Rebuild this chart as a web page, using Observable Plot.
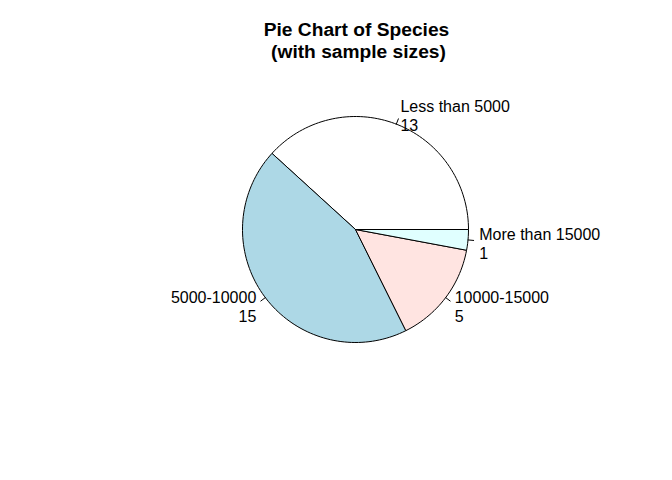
<!DOCTYPE html>
<html>
<head>
<meta charset="utf-8">
<script src="https://cdn.jsdelivr.net/npm/d3@7"></script>
<script src="https://cdn.jsdelivr.net/npm/@observablehq/plot@0.6"></script>
<style>
  body { margin: 0; background: white; }
  svg { display: block; }
</style>
</head>
<body>
<div id="chart"></div>
<script>
const categories = ["Less than 5000", "5000-10000", "10000-15000", "More than 15000"];
const counts = [13, 15, 5, 1];
const colors = ["white", "lightblue", "mistyrose", "lightcyan"];
const titleLines = ["Pie Chart of Species", "(with sample sizes)"];

const total = d3.sum(counts);
let cum = 0;
const slices = categories.map((c, i) => {
  const a0 = cum / total * 2 * Math.PI;
  cum += counts[i];
  const a1 = cum / total * 2 * Math.PI;
  const n = Math.max(2, Math.ceil(200 * (a1 - a0) / (2 * Math.PI)));
  const pts = [{x: 0, y: 0}];
  for (let k = 0; k <= n; k++) {
    const t = a0 + (a1 - a0) * k / n;
    pts.push({x: Math.cos(t), y: Math.sin(t)});
  }
  pts.push({x: 0, y: 0});
  const mid = (a0 + a1) / 2;
  const px = Math.cos(mid), py = Math.sin(mid);
  return {category: c, count: counts[i], color: colors[i], pts, px, py};
});

const R = 113, cx = 355, cy = 229, W = 672, H = 480;
const xDomain = [-cx / R, (W - cx) / R];
const yDomain = [-(H - cy) / R, cy / R];

const tickData = slices.flatMap(s => [
  {x: s.px, y: s.py, k: s.category},
  {x: 1.05 * s.px, y: 1.05 * s.py, k: s.category}
]);
const labelData = slices.map(s => ({
  x: 1.1 * s.px, y: 1.1 * s.py,
  text: s.category + "\n" + s.count,
  anchor: s.px < 0 ? "end" : "start"
}));

const marks = [];
for (const s of slices) {
  marks.push(Plot.line(s.pts, {x: "x", y: "y", fill: s.color, stroke: "black", strokeWidth: 1, curve: "linear"}));
}
marks.push(Plot.line(tickData, {x: "x", y: "y", z: "k", stroke: "black", strokeWidth: 1}));
marks.push(Plot.text(labelData.filter(d => d.anchor === "start"), {x: "x", y: "y", dy: 2, text: "text", textAnchor: "start", lineAnchor: "middle", lineHeight: 1.2, fontSize: 16, fill: "black"}));
marks.push(Plot.text(labelData.filter(d => d.anchor === "end"), {x: "x", y: "y", dy: 2, text: "text", textAnchor: "end", lineAnchor: "middle", lineHeight: 1.2, fontSize: 16, fill: "black"}));
marks.push(Plot.text([titleLines[0]], {frameAnchor: "top-left", dx: 356, dy: 29, text: d => d, textAnchor: "middle", lineAnchor: "middle", fontSize: 19.2, fontWeight: "bold", fill: "black"}));
marks.push(Plot.text([titleLines[1]], {frameAnchor: "top-left", dx: 358, dy: 51, text: d => d, textAnchor: "middle", lineAnchor: "middle", fontSize: 19.2, fontWeight: "bold", fill: "black"}));

const chart = Plot.plot({
  width: W, height: H,
  margin: 0,
  style: {fontFamily: "'Liberation Sans', Arial, sans-serif", background: "white"},
  x: {domain: xDomain, axis: null},
  y: {domain: yDomain, axis: null},
  marks
});
document.getElementById("chart").appendChild(chart);
</script>
</body>
</html>
